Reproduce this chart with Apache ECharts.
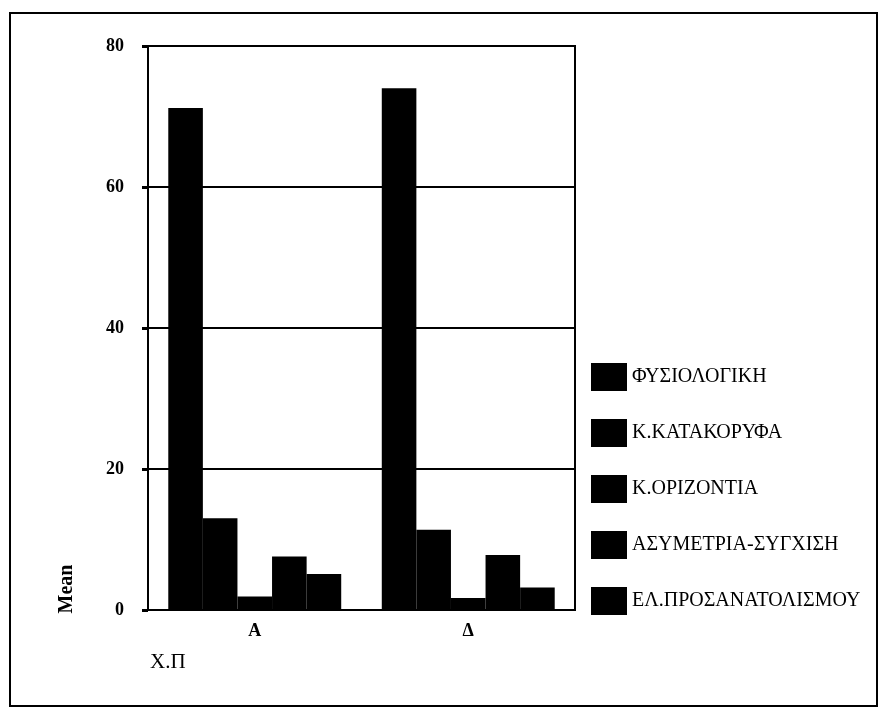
<!DOCTYPE html>
<html>
<head>
<meta charset="utf-8">
<script src="https://cdn.jsdelivr.net/npm/echarts@6/dist/echarts.min.js"></script>
<style>html,body{margin:0;padding:0;background:#fff;}#c{width:887px;height:720px;}</style>
</head>
<body>
<div id="c"></div>
<script>
const categories = ['Α', 'Δ'];
const seriesNames = ['ΦΥΣΙΟΛΟΓΙΚΗ', 'Κ.ΚΑΤΑΚΟΡΥΦΑ', 'Κ.ΟΡΙΖΟΝΤΙΑ', 'ΑΣΥΜΕΤΡΙΑ-ΣΥΓΧΙΣΗ', 'ΕΛ.ΠΡΟΣΑΝΑΤΟΛΙΣΜΟΥ'];
const fysiologiki = [71.2, 74.0];
const kKatakoryfa = [13.0, 11.4];
const kOrizontia = [1.9, 1.7];
const asymetria = [7.6, 7.8];
const elProsanatolismou = [5.1, 3.2];
const yTicks = [0, 20, 40, 60, 80];
const yTitle = 'Mean';
const xTitle = 'Χ.Π';

const values = [fysiologiki, kKatakoryfa, kOrizontia, asymetria, elProsanatolismou];
const FONT = '"Liberation Serif", "DejaVu Serif", serif';

const chart = echarts.init(document.getElementById('c'), null, {renderer: 'canvas'});
chart.setOption({
  animation: false,
  backgroundColor: '#fff',
  grid: {left: 148, top: 46, right: 312, bottom: 110, show: true, borderColor: '#000', borderWidth: 2, backgroundColor: '#fff'},
  legend: {
    orient: 'vertical', left: 586, top: 358,
    itemWidth: 36, itemHeight: 28, itemGap: 28,
    icon: 'rect',
    data: seriesNames,
    textStyle: {fontFamily: FONT, fontSize: 20, color: '#000'}
  },
  xAxis: {
    type: 'category', data: categories,
    axisLine: {lineStyle: {color: '#000', width: 2}},
    axisTick: {alignWithLabel: true, length: 4, lineStyle: {color: '#000', width: 4}},
    axisLabel: {fontFamily: FONT, fontSize: 18, fontWeight: 'bold', color: '#000', margin: 12}
  },
  yAxis: {
    type: 'value', min: yTicks[0], max: yTicks[yTicks.length - 1], interval: 20,
    axisLine: {show: true, lineStyle: {color: '#000', width: 2}},
    axisTick: {show: true, length: 6, lineStyle: {color: '#000', width: 3}},
    splitLine: {lineStyle: {color: '#000', width: 2}},
    axisLabel: {fontFamily: FONT, fontSize: 18, fontWeight: 'bold', color: '#000', margin: 24}
  },
  series: seriesNames.map((n, i) => ({
    name: n, type: 'bar', data: values[i],
    barGap: '0%', barCategoryGap: '19%',
    itemStyle: {color: '#000'}
  })),
  graphic: [
    {type: 'rect', shape: {x: 10, y: 13, width: 867, height: 693}, style: {fill: 'none', stroke: '#000', lineWidth: 2}, z: -1},
    {type: 'text', x: 67, y: 589, rotation: Math.PI / 2, style: {text: yTitle, font: 'bold 20px ' + FONT, fill: '#000', textAlign: 'center', textVerticalAlign: 'middle'}},
    {type: 'text', x: 150, y: 662, style: {text: xTitle, font: '21px ' + FONT, fill: '#000', textAlign: 'left', textVerticalAlign: 'middle'}}
  ]
});
</script>
</body>
</html>
